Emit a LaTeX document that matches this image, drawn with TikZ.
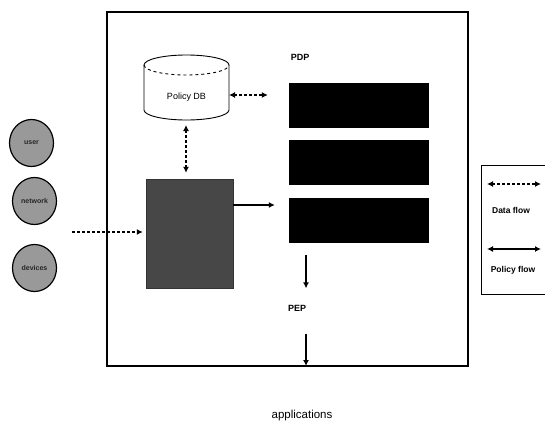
\documentclass[tikz,border=0pt]{standalone}
\usepackage{fontspec}
\setmainfont{Liberation Sans}
\usetikzlibrary{arrows.meta,shapes.geometric}
\begin{document}
\begin{tikzpicture}[x=1pt,y=-1pt,
  lbl/.style={font=\fontsize{9}{10}\selectfont},
  ent/.style={ellipse,draw,line width=1.2pt,fill=black!40,minimum width=44pt,minimum height=47pt,inner sep=0pt,font=\fontsize{7}{8}\selectfont\bfseries,text=black!85},
  pdpbox/.style={draw=black,fill=black,minimum width=139pt,minimum height=44pt,inner sep=0pt},
  dataflow/.style={line width=1.6pt,densely dashed,{Latex[length=6pt,width=6pt]}-{Latex[length=6pt,width=6pt]}},
  dataone/.style={line width=1.6pt,densely dashed,-{Latex[length=6pt,width=6pt]}},
  policy/.style={line width=1.6pt,-{Latex[length=6pt,width=6pt]}},
  policy2/.style={line width=1.6pt,{Latex[length=6pt,width=6pt]}-{Latex[length=6pt,width=6pt]}}]
\useasboundingbox (0,0) rectangle (545,428);
% main frame
\draw[line width=1.3pt] (107,12) rectangle (468,366);
\coordinate (fbot) at (306,366);
% Policy DB cylinder
\draw[line width=0.9pt] (144,65) arc[start angle=180,end angle=360,x radius=42.5,y radius=10] -- (229,110)
   arc[start angle=0,end angle=180,x radius=42.5,y radius=10] -- cycle;
\draw[line width=0.9pt,dashed] (144,65) arc[start angle=180,end angle=0,x radius=42.5,y radius=10];
\node[lbl] (db) at (186.5,97) {Policy DB};
\coordinate (dbr) at (229,95);
\coordinate (dbb) at (186,120);
% PDP
\node[lbl,font=\fontsize{9}{10}\selectfont\bfseries] (pdp) at (300,57) {PDP};
\node[pdpbox] (b1) at (358.5,105) {};
\node[pdpbox] (b2) at (358.5,162) {};
\node[pdpbox] (b3) at (358.5,220) {};
% gray box
\node[draw=black!80,fill=black!72,minimum width=87pt,minimum height=109pt,inner sep=0pt] (g) at (189.5,233.5) {};
% entities
\node[ent] (user) at (31.5,143) {user};
\node[ent] (net) at (34.5,201) {network};
\node[ent] (dev) at (34.5,268) {devices};
\coordinate (in) at (72,232);
% PEP
\node[lbl,font=\fontsize{9}{10}\selectfont\bfseries] (pep) at (297,308) {PEP};
% applications
\node[font=\fontsize{11.5}{12}\selectfont] (app) at (302,416) {applications};
% arrows
\draw[dataflow,shorten >=21pt] (dbr) -- (b1.west |- dbr);
\draw[dataflow,shorten <=5pt,shorten >=6pt] (dbb) -- (g.north -| dbb);
\draw[dataone,shorten >=3pt] (in) -- (g.west |- in);
\draw[policy,shorten >=14pt] (g.east |- 0,205) -- (b3.west |- 0,205);
\draw[policy,shorten <=13pt,shorten >=13pt] (b3.south -| fbot) -- (pep.north -| fbot);
\draw[policy,shorten <=19pt] (pep.south -| fbot) -- (fbot);
% legend
\draw[line width=1pt] (548,165) -- (481,165) -- (481,294) -- (548,294);
\coordinate (l1a) at (487,184); \coordinate (l1b) at (541,184);
\coordinate (l2a) at (487,249); \coordinate (l2b) at (541,249);
\draw[dataflow] (l1a) -- (l1b);
\draw[policy2] (l2a) -- (l2b);
\node[lbl,font=\fontsize{8.5}{10}\selectfont\bfseries] (ldf) at (511,210) {Data flow};
\node[lbl,font=\fontsize{8.5}{10}\selectfont\bfseries] (lpf) at (513,270) {Policy flow};
\end{tikzpicture}
\end{document}
